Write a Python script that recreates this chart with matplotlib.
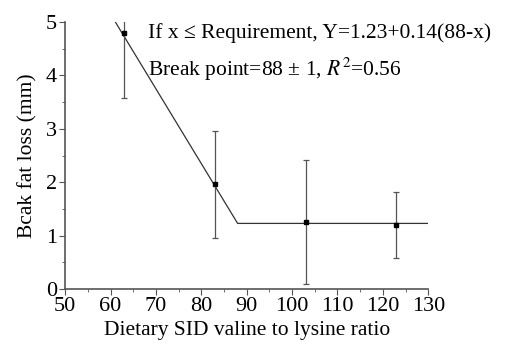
import numpy as np
import matplotlib
matplotlib.use('Agg')
import matplotlib.pyplot as plt
from matplotlib.ticker import MultipleLocator

ratio = [63, 83, 103, 123]
fat_loss = [4.8, 1.96, 1.25, 1.2]
sd = [1.22, 1.0, 1.16, 0.62]

# broken-line fit
plateau = 1.23
slope = 0.14
bp = 88
fit_x = np.array([61, bp, 130])
fit_y = plateau + slope * np.clip(bp - fit_x, 0, None)

plt.rcParams['font.family'] = ['Liberation Serif', 'DejaVu Serif']
plt.rcParams['mathtext.fontset'] = 'stix'

fig = plt.figure(figsize=(5.05, 3.5), dpi=100)
ax = fig.add_axes([0.129, 0.174, 0.719, 0.763])

ax.plot(fit_x, fit_y, color='#333333', lw=0.9)
ax.errorbar(ratio, fat_loss, yerr=sd, fmt='s', color='black', ms=3.5,
            ecolor='#555555', elinewidth=0.9, capsize=2.5, capthick=0.9)

ax.set_xlim(50, 130)
ax.set_ylim(0, 5)
ax.xaxis.set_major_locator(MultipleLocator(10))
ax.xaxis.set_minor_locator(MultipleLocator(5))
ax.yaxis.set_major_locator(MultipleLocator(1))
ax.yaxis.set_minor_locator(MultipleLocator(0.5))
ax.spines['top'].set_visible(False)
ax.spines['right'].set_visible(False)
for s in ['left', 'bottom']:
    ax.spines[s].set_color('#555555')
    ax.spines[s].set_linewidth(1.2)
ax.tick_params(which='both', direction='out', color='#555555', labelsize=16, pad=2)
ax.tick_params(which='major', length=4)
ax.tick_params(which='minor', length=2.5)

ax.set_xlabel('Dietary SID valine to lysine ratio', fontsize=15.5, labelpad=3)
ax.set_ylabel('Bcak fat loss (mm)', fontsize=15.5, labelpad=6)

ax.text(0.229, 0.995, 'If x \u2264 Requirement, Y=1.23+0.14(88-x)',
        transform=ax.transAxes, fontsize=15.5, va='top')
ax.text(0.229, 0.875, 'Break point=88 \u00b1 1, $R^2$=0.56',
        transform=ax.transAxes, fontsize=15.5, va='top')

fig.savefig('out.png', dpi=100)
